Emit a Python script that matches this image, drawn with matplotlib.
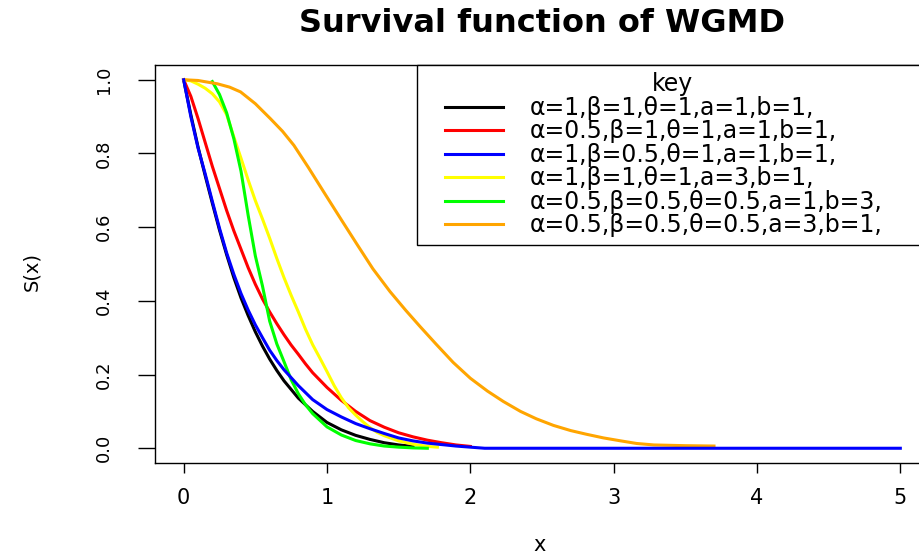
import numpy as np
import matplotlib.pyplot as plt
from matplotlib.lines import Line2D
from matplotlib.legend_handler import HandlerLine2D
from matplotlib.ticker import FormatStrFormatter

# survival curves S(x)
x_black = [0, 0.05, 0.1, 0.15, 0.2, 0.25, 0.3, 0.35, 0.4, 0.45, 0.5, 0.55, 0.6, 0.65,
           0.7, 0.8, 0.9, 1.0, 1.1, 1.2, 1.3, 1.4, 1.5, 1.6]
s_black = [1.0, 0.905, 0.818, 0.74, 0.665, 0.592, 0.525, 0.463, 0.408, 0.36, 0.316, 0.277,
           0.242, 0.211, 0.183, 0.136, 0.1, 0.07, 0.05, 0.035, 0.024, 0.015, 0.009, 0.005]

x_red = [0, 0.05, 0.1, 0.15, 0.2, 0.25, 0.3, 0.35, 0.4, 0.45, 0.5, 0.55, 0.6, 0.65, 0.7,
         0.75, 0.8, 0.85, 0.9, 1.0, 1.1, 1.2, 1.3, 1.4, 1.5, 1.6, 1.7, 1.8, 1.9, 2.0]
s_red = [1.0, 0.955, 0.895, 0.83, 0.765, 0.705, 0.645, 0.59, 0.54, 0.49, 0.445, 0.405,
         0.37, 0.338, 0.308, 0.28, 0.255, 0.229, 0.205, 0.165, 0.13, 0.1, 0.075, 0.057,
         0.042, 0.031, 0.022, 0.015, 0.009, 0.005]

x_blue = [0, 0.05, 0.1, 0.15, 0.2, 0.25, 0.3, 0.35, 0.4, 0.45, 0.5, 0.55, 0.6, 0.65,
          0.7, 0.8, 0.9, 1.0, 1.1, 1.2, 1.3, 1.4, 1.5, 1.6, 1.7, 1.8, 1.9, 2.0, 2.1,
          3, 4, 5]
s_blue = [1.0, 0.9, 0.815, 0.745, 0.67, 0.597, 0.53, 0.472, 0.42, 0.375, 0.335, 0.3,
          0.266, 0.238, 0.213, 0.17, 0.132, 0.105, 0.085, 0.067, 0.053, 0.04, 0.028,
          0.02, 0.014, 0.01, 0.006, 0.003, 0.0, 0.0, 0.0, 0.0]

x_yellow = [0, 0.05, 0.1, 0.15, 0.2, 0.25, 0.3, 0.35, 0.4, 0.45, 0.5, 0.55, 0.6, 0.65,
            0.7, 0.75, 0.8, 0.85, 0.9, 0.95, 1.0, 1.05, 1.1, 1.15, 1.2, 1.25, 1.3,
            1.35, 1.4, 1.5, 1.6, 1.7, 1.77]
s_yellow = [1.0, 0.997, 0.988, 0.977, 0.962, 0.94, 0.905, 0.845, 0.787, 0.728, 0.672,
            0.622, 0.57, 0.515, 0.463, 0.415, 0.37, 0.323, 0.281, 0.245, 0.208, 0.17,
            0.137, 0.11, 0.09, 0.072, 0.056, 0.043, 0.034, 0.02, 0.011, 0.005, 0.003]

x_green = [0.2, 0.25, 0.3, 0.35, 0.4, 0.45, 0.5, 0.55, 0.6, 0.65, 0.7, 0.75, 0.8, 0.85,
           0.9, 1.0, 1.1, 1.2, 1.3, 1.4, 1.5, 1.6, 1.7]
s_green = [0.995, 0.96, 0.91, 0.84, 0.752, 0.632, 0.522, 0.44, 0.345, 0.283, 0.235, 0.186,
           0.148, 0.118, 0.094, 0.058, 0.036, 0.021, 0.012, 0.006, 0.003, 0.001, 0.0]

x_orange = [0, 0.1, 0.235, 0.32, 0.397, 0.5, 0.606, 0.69, 0.769, 0.87, 0.978, 1.1, 1.21,
            1.32, 1.44, 1.55, 1.65, 1.76, 1.88, 2.0, 2.12, 2.23, 2.35, 2.46, 2.58, 2.7,
            2.81, 2.93, 3.05, 3.16, 3.28, 3.5, 3.7]
s_orange = [1.0, 0.998, 0.989, 0.98, 0.967, 0.935, 0.894, 0.86, 0.822, 0.762, 0.695,
            0.62, 0.553, 0.487, 0.425, 0.374, 0.33, 0.283, 0.233, 0.19, 0.155, 0.127,
            0.1, 0.08, 0.062, 0.048, 0.038, 0.028, 0.02, 0.013, 0.009, 0.007, 0.006]

labels = [
    "α=1,β=1,θ=1,a=1,b=1,",
    "α=0.5,β=1,θ=1,a=1,b=1,",
    "α=1,β=0.5,θ=1,a=1,b=1,",
    "α=1,β=1,θ=1,a=3,b=1,",
    "α=0.5,β=0.5,θ=0.5,a=1,b=3,",
    "α=0.5,β=0.5,θ=0.5,a=3,b=1,",
]
colors = ["black", "red", "blue", "yellow", "#00ff00", "orange"]

curves = [
    (x_black, s_black),
    (x_red, s_red),
    (x_blue, s_blue),
    (x_yellow, s_yellow),
    (x_green, s_green),
    (x_orange, s_orange),
]

fig = plt.figure(figsize=(9.19, 5.54), dpi=100)
# plot region runs a little past the right edge of the picture, as in the reference
ax = fig.add_axes([155 / 919, 1 - 463 / 554, 774 / 919, 398 / 554])

for (xs, ss), lab, col in zip(curves, labels, colors):
    z = 3 if col == "blue" else 2
    ax.plot(xs, ss, color=col, linewidth=2.2, label=lab, zorder=z)

ax.set_xlim(-0.2, 5.2)
ax.set_ylim(-0.04, 1.04)
ax.set_xticks(range(6))
ax.set_yticks(np.arange(0, 1.01, 0.2))
ax.yaxis.set_major_formatter(FormatStrFormatter("%.1f"))

ax.tick_params(axis="x", direction="out", length=7, width=1, pad=11, labelsize=15)
ax.tick_params(axis="y", direction="out", length=12, width=1, pad=18, labelsize=13,
               labelrotation=90)
for lab in ax.get_yticklabels():
    lab.set_va("center")

for sp in ax.spines.values():
    sp.set_linewidth(1.0)

ax.set_title("Survival function of WGMD", fontsize=23, fontweight="bold", pad=24)
ax.set_xlabel("x", fontsize=15)
ax.set_ylabel("S(x)", fontsize=14)
ax.xaxis.set_label_coords(0.497, -0.182)
ax.yaxis.set_label_coords(-0.147, 0.48)

leg = ax.legend(
    loc="upper left",
    bbox_to_anchor=(0.338, 0, 0.662, 1.0),
    mode="expand",
    borderaxespad=0,
    title="key",
    fontsize=17,
    title_fontsize=17,
    handlelength=3.35,
    handletextpad=1.14,
    borderpad=0.31,
    labelspacing=-0.02,
    fancybox=False,
    edgecolor="black",
    framealpha=1,
    handler_map={Line2D: HandlerLine2D(xpad=0.89)},
)
leg.get_frame().set_linewidth(1.0)

plt.savefig("out.png", dpi=100)
